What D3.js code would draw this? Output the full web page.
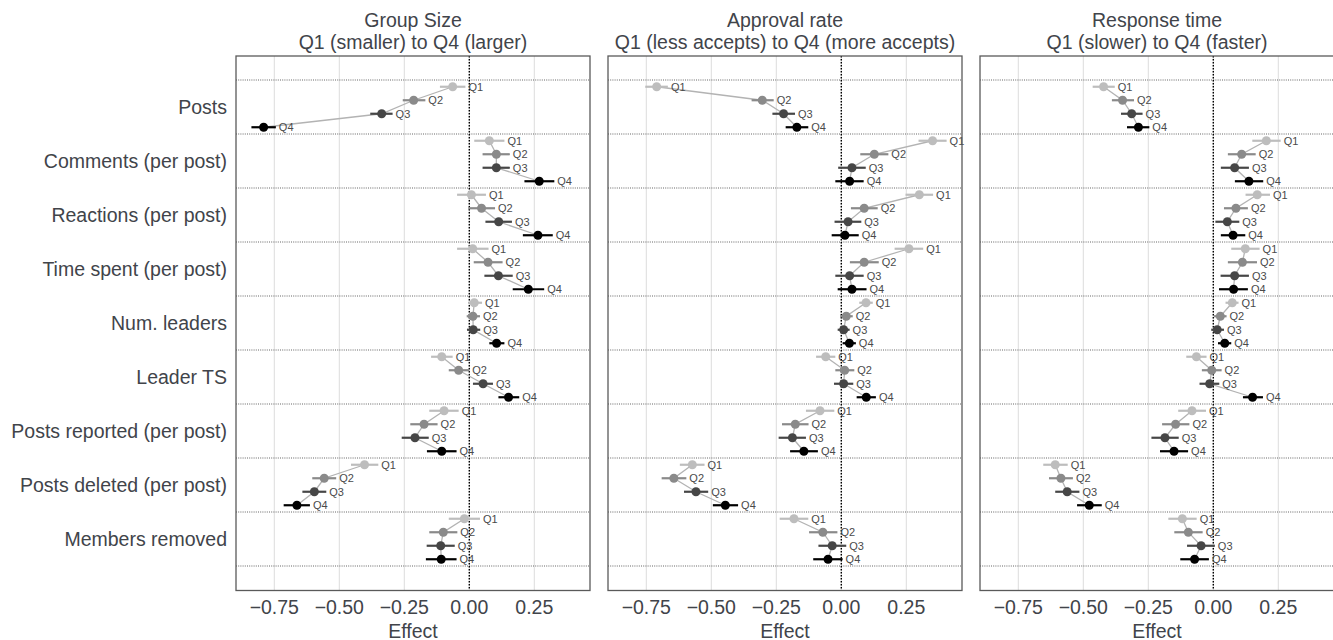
<!DOCTYPE html>
<html>
<head>
<meta charset="utf-8">
<script src="https://cdn.jsdelivr.net/npm/d3@7"></script>
<style>
	body { margin: 0; background: #fff; }
	svg { display: block; font-family: "Liberation Sans", Arial, sans-serif; }
</style>
</head>
<body>
<svg id="chart" width="1333" height="640"></svg>
<script>
const categories = ["Posts", "Comments (per post)", "Reactions (per post)", "Time spent (per post)",
	"Num. leaders", "Leader TS", "Posts reported (per post)", "Posts deleted (per post)", "Members removed"];
const quartiles = ["Q1", "Q2", "Q3", "Q4"];
const titles = [
	["Group Size", "Q1 (smaller) to Q4 (larger)"],
	["Approval rate", "Q1 (less accepts) to Q4 (more accepts)"],
	["Response time", "Q1 (slower) to Q4 (faster)"]
];
const xTicks = [-0.75, -0.5, -0.25, 0, 0.25];

// rows = categories, columns = Q1..Q4
const sizeEst = [
	[-0.064, -0.214, -0.337, -0.791],
	[0.077, 0.104, 0.104, 0.269],
	[0.008, 0.047, 0.113, 0.264],
	[0.013, 0.072, 0.112, 0.227],
	[0.019, 0.014, 0.015, 0.105],
	[-0.106, -0.041, 0.053, 0.151],
	[-0.097, -0.174, -0.209, -0.106],
	[-0.403, -0.558, -0.596, -0.663],
	[-0.019, -0.100, -0.110, -0.108]
];
const sizeLo = [
	[-0.113, -0.256, -0.381, -0.838],
	[0.019, 0.051, 0.051, 0.212],
	[-0.047, -0.004, 0.062, 0.206],
	[-0.047, 0.017, 0.058, 0.167],
	[-0.004, -0.010, -0.009, 0.077],
	[-0.147, -0.079, 0.014, 0.112],
	[-0.154, -0.227, -0.260, -0.163],
	[-0.455, -0.604, -0.642, -0.714],
	[-0.079, -0.154, -0.164, -0.167]
];
const sizeHi = [
	[-0.015, -0.169, -0.295, -0.744],
	[0.135, 0.156, 0.156, 0.327],
	[0.064, 0.099, 0.164, 0.321],
	[0.074, 0.128, 0.167, 0.288],
	[0.049, 0.041, 0.042, 0.135],
	[-0.064, 0.000, 0.091, 0.192],
	[-0.041, -0.122, -0.156, -0.049],
	[-0.350, -0.512, -0.550, -0.613],
	[0.041, -0.046, -0.056, -0.049]
];

const approvalEst = [
	[-0.710, -0.304, -0.222, -0.171],
	[0.351, 0.127, 0.041, 0.032],
	[0.300, 0.088, 0.026, 0.014],
	[0.260, 0.088, 0.032, 0.041],
	[0.095, 0.019, 0.009, 0.031],
	[-0.060, 0.013, 0.009, 0.096],
	[-0.082, -0.177, -0.188, -0.144],
	[-0.573, -0.644, -0.559, -0.446],
	[-0.182, -0.071, -0.035, -0.051]
];
const approvalLo = [
	[-0.754, -0.345, -0.265, -0.214],
	[0.297, 0.073, -0.012, -0.023],
	[0.247, 0.037, -0.026, -0.037],
	[0.205, 0.033, -0.023, -0.014],
	[0.069, -0.004, -0.014, 0.005],
	[-0.097, -0.023, -0.028, 0.059],
	[-0.136, -0.228, -0.241, -0.197],
	[-0.621, -0.691, -0.605, -0.494],
	[-0.237, -0.124, -0.088, -0.108]
];
const approvalHi = [
	[-0.667, -0.260, -0.178, -0.127],
	[0.405, 0.181, 0.094, 0.086],
	[0.353, 0.140, 0.077, 0.067],
	[0.315, 0.144, 0.086, 0.097],
	[0.121, 0.044, 0.032, 0.056],
	[-0.023, 0.050, 0.046, 0.133],
	[-0.027, -0.126, -0.136, -0.090],
	[-0.526, -0.596, -0.512, -0.397],
	[-0.127, -0.015, 0.019, 0.005]
];

const responseEst = [
	[-0.422, -0.349, -0.314, -0.288],
	[0.204, 0.109, 0.082, 0.137],
	[0.169, 0.087, 0.054, 0.076],
	[0.123, 0.112, 0.082, 0.078],
	[0.073, 0.027, 0.015, 0.044],
	[-0.065, -0.006, -0.014, 0.151],
	[-0.082, -0.145, -0.186, -0.151],
	[-0.608, -0.586, -0.562, -0.477],
	[-0.119, -0.096, -0.047, -0.072]
];
const responseLo = [
	[-0.464, -0.390, -0.355, -0.332],
	[0.150, 0.056, 0.029, 0.083],
	[0.124, 0.041, 0.008, 0.029],
	[0.069, 0.056, 0.028, 0.022],
	[0.047, 0.003, -0.008, 0.018],
	[-0.104, -0.044, -0.053, 0.114],
	[-0.135, -0.197, -0.238, -0.205],
	[-0.654, -0.632, -0.608, -0.524],
	[-0.173, -0.150, -0.101, -0.127]
];
const responseHi = [
	[-0.379, -0.305, -0.272, -0.246],
	[0.259, 0.163, 0.137, 0.192],
	[0.218, 0.133, 0.100, 0.123],
	[0.178, 0.168, 0.137, 0.133],
	[0.097, 0.051, 0.041, 0.069],
	[-0.026, 0.032, 0.023, 0.191],
	[-0.028, -0.092, -0.133, -0.097],
	[-0.560, -0.540, -0.515, -0.429],
	[-0.064, -0.041, 0.006, -0.017]
];

const panels = [
	{ est: sizeEst, lo: sizeLo, hi: sizeHi },
	{ est: approvalEst, lo: approvalLo, hi: approvalHi },
	{ est: responseEst, lo: responseLo, hi: responseHi }
];

const qColors = ["#bdbdbd", "#8a8a8a", "#464646", "#000000"];
const textColor = "#41444a";
const bigFont = '19.5px';

function buildRows(p) {
	let rows = [];
	categories.forEach((c, i) => {
		let pts = quartiles.map((q, j) => ({
			cat: c, q: q, qi: j,
			v: p.est[i][j], lo: p.lo[i][j], hi: p.hi[i][j]
		}));
		rows.push({ cat: c, pts: pts });
	});
	return rows;
}

function drawPanel(svg, p, k, y, yq, frameTop, frameBottom) {
	let x0 = 236 + 372 * k;
	let width = 354;
	let x = d3.scaleLinear().domain([-0.8973, 0.4642]).range([0, width]);
	let rows = buildRows(p);

	let g = svg.append('g').attr('transform', `translate(${x0},0)`);

	// vertical grid
	g.selectAll('.grid')
		.data(xTicks)
		.enter()
		.append('line')
		.attr('x1', d => x(d)).attr('x2', d => x(d))
		.attr('y1', frameTop).attr('y2', frameBottom)
		.style('stroke', '#dcdcdc')
		.style('stroke-width', 1);

	// dotted separators between categories
	let seps = categories.map(c => y(c)).concat([y(categories[categories.length - 1]) + y.bandwidth()]);
	g.selectAll('.sep')
		.data(seps)
		.enter()
		.append('line')
		.attr('x1', 0).attr('x2', width)
		.attr('y1', d => d).attr('y2', d => d)
		.style('stroke', '#555')
		.style('stroke-width', 0.9)
		.style('stroke-dasharray', '1,1.2');

	// zero line
	g.append('line')
		.attr('x1', x(0)).attr('x2', x(0))
		.attr('y1', frameTop).attr('y2', frameBottom)
		.style('stroke', '#000')
		.style('stroke-width', 1.4)
		.style('stroke-dasharray', '1.5,1.5');

	let line = d3.line()
		.x(d => x(d.v))
		.y(d => y(d.cat) + yq(d.q) + yq.bandwidth() / 2);

	let row = g.selectAll('.row')
		.data(rows)
		.enter()
		.append('g');

	row.append('path')
		.attr('d', d => line(d.pts))
		.style('fill', 'none')
		.style('stroke', '#b3b3b3')
		.style('stroke-width', 1.3);

	let pt = row.selectAll('.pt')
		.data(d => d.pts)
		.enter()
		.append('g')
		.attr('transform', d => `translate(0,${y(d.cat) + yq(d.q) + yq.bandwidth() / 2})`);

	pt.append('line')
		.attr('x1', d => x(d.lo)).attr('x2', d => x(d.hi))
		.style('stroke', d => qColors[d.qi])
		.style('stroke-width', 2.2);

	pt.append('circle')
		.attr('cx', d => x(d.v))
		.attr('r', 4.5)
		.style('fill', d => qColors[d.qi]);

	pt.append('text')
		.attr('x', d => x(d.hi) + 3)
		.attr('dy', '0.35em')
		.text(d => d.q)
		.style('font-size', '11px')
		.style('fill', '#4a4a4a');

	// frame
	g.append('rect')
		.attr('x', 0).attr('y', frameTop)
		.attr('width', width).attr('height', frameBottom - frameTop)
		.style('fill', 'none')
		.style('stroke', '#5a5a5a')
		.style('stroke-width', 1.3);

	// x ticks
	g.selectAll('.tick')
		.data(xTicks)
		.enter()
		.append('text')
		.attr('x', d => x(d))
		.attr('y', 613.5)
		.attr('text-anchor', 'middle')
		.text(d3.format('.2f'))
		.style('font-size', bigFont)
		.style('fill', textColor);

	g.append('text')
		.attr('x', width / 2)
		.attr('y', 637.5)
		.attr('text-anchor', 'middle')
		.text('Effect')
		.style('font-size', bigFont)
		.style('fill', textColor);

	// title
	g.selectAll('.title')
		.data(titles[k])
		.enter()
		.append('text')
		.attr('x', width / 2)
		.attr('y', (d, i) => 27 + i * 22)
		.attr('text-anchor', 'middle')
		.text(d => d)
		.style('font-size', bigFont)
		.style('fill', textColor);
}

function chart() {
	let svg = d3.select('#chart');
	let frameTop = 56;
	let frameBottom = 590.5;

	let y = d3.scaleBand()
		.domain(categories)
		.range([80, 566])
		.padding(0);

	let yq = d3.scaleBand()
		.domain(quartiles)
		.range([0, y.bandwidth()])
		.padding(0);

	// category labels
	svg.selectAll('.cat')
		.data(categories)
		.enter()
		.append('text')
		.attr('x', 227)
		.attr('y', d => y(d) + y.bandwidth() / 2)
		.attr('dy', '0.35em')
		.attr('text-anchor', 'end')
		.text(d => d)
		.style('font-size', bigFont)
		.style('fill', textColor);

	panels.forEach((p, k) => drawPanel(svg, p, k, y, yq, frameTop, frameBottom));
}

chart();
</script>
</body>
</html>
